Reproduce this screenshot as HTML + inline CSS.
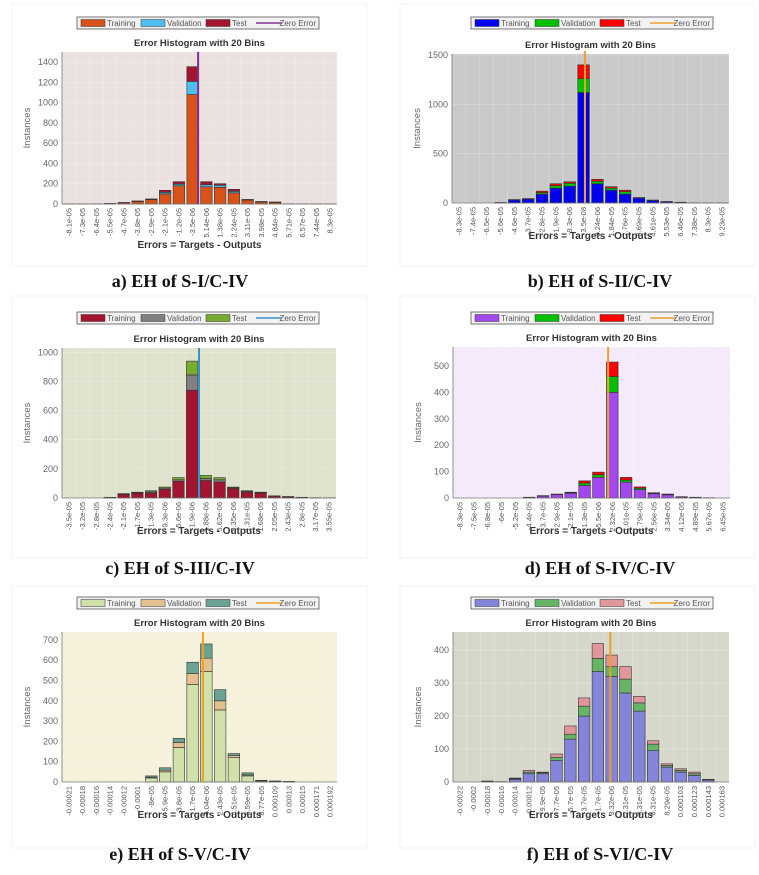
<!DOCTYPE html>
<html><head><meta charset="utf-8"><style>
html,body{margin:0;padding:0;background:#fff;}
svg{display:block;font-family:"Liberation Sans",sans-serif;}
</style></head><body>
<svg id="fig" width="759" height="875" viewBox="0 0 759 875" xmlns="http://www.w3.org/2000/svg"></svg>
<script>
// ---------- data ----------
const ticksA=["-8.1e-05","-7.3e-05","-6.4e-05","-5.5e-05","-4.7e-05","-3.8e-05","-2.9e-05","-2.1e-05","-1.2e-05","-3.5e-06","5.14e-06","1.38e-05","2.24e-05","3.11e-05","3.98e-05","4.84e-05","5.71e-05","6.57e-05","7.44e-05","8.3e-05"];
const trainA=[1,1,1,4,12,25,42,100,180,1080,170,165,110,38,20,16,2,1,1,1];
const valA=[0,0,0,0,1,2,3,15,15,130,20,20,15,4,2,2,0,0,0,0];
const testA=[0,0,0,1,2,3,5,20,25,145,30,15,20,3,3,2,0,0,0,0];
const zeroA=9.9;

const ticksB=["-8.3e-05","-7.4e-05","-6.5e-05","-5.6e-05","-4.6e-05","-3.7e-05","-2.8e-05","-1.9e-05","-9.3e-06","-3.5e-08","9.24e-06","1.84e-05","2.76e-05","3.69e-05","4.61e-05","5.53e-05","6.46e-05","7.38e-05","8.3e-05","9.23e-05"];
const trainB=[0,0,0,4,30,40,90,150,170,1120,195,130,90,50,25,12,6,2,1,1];
const valB=[0,0,0,0,2,2,15,25,30,140,25,20,25,3,2,2,1,0,0,0];
const testB=[0,0,0,1,3,3,15,20,15,140,20,15,15,2,3,1,1,0,0,0];
const zeroB=9.6;

const ticksC=["-3.5e-05","-3.2e-05","-2.8e-05","-2.4e-05","-2.1e-05","-1.7e-05","-1.3e-05","-9.3e-06","-5.6e-06","-1.9e-06","1.88e-06","5.62e-06","9.35e-06","1.31e-05","1.68e-05","2.05e-05","2.43e-05","2.8e-05","3.17e-05","3.55e-05"];
const trainC=[0,0,0,4,25,33,35,60,115,740,120,110,65,40,35,12,8,4,2,1];
const valC=[0,0,0,0,2,3,7,8,10,105,15,15,5,5,3,2,1,1,0,0];
const testC=[0,0,0,1,3,4,8,7,15,95,20,15,5,5,2,1,1,0,0,0];
const zeroC=10.0;

const ticksD=["-8.3e-05","-7.5e-05","-6.8e-05","-6e-05","-5.2e-05","-4.4e-05","-3.7e-05","-2.9e-05","-2.1e-05","-1.3e-05","-5.5e-06","2.32e-06","1.01e-05","1.79e-05","2.56e-05","3.34e-05","4.12e-05","4.89e-05","5.67e-05","6.45e-05"];
const trainD=[0,0,0,0,0,2,7,13,18,48,78,400,60,32,16,12,4,2,1,0];
const valD=[0,0,0,0,0,1,1,1,2,9,10,60,8,5,2,2,1,1,0,0];
const testD=[0,0,0,0,0,0,1,1,2,8,10,55,10,5,2,1,0,0,0,0];
const zeroD=11.2;

const ticksE=["-0.00021","-0.00018","-0.00016","-0.00014","-0.00012","-0.0001","-8e-05","-5.9e-05","-3.8e-05","-1.7e-05","4.04e-06","2.43e-05","4.51e-05","6.59e-05","8.77e-05","0.000109","0.00013","0.00015","0.000171","0.000192"];
const trainE=[0,0,0,0,0,0,20,50,170,480,545,355,120,30,5,3,2,0,0,0];
const valE=[0,0,0,0,0,0,4,8,25,55,65,45,10,5,1,1,0,0,0,0];
const testE=[0,0,0,0,0,0,6,12,20,55,70,55,10,10,2,1,1,0,0,0];
const zeroE=10.25;

const ticksF=["-0.00022","-0.0002","-0.00018","-0.00016","-0.00014","-0.00012","-9.9e-05","-7.7e-05","-5.7e-05","-3.7e-05","-1.7e-05","3.32e-06","2.31e-05","4.31e-05","6.31e-05","8.29e-05","0.000103","0.000123","0.000143","0.000163"];
const trainF=[0,0,2,1,8,25,25,65,130,200,335,320,270,215,95,45,30,20,6,0];
const valF=[0,0,1,0,2,5,3,10,15,30,40,30,42,25,20,5,5,5,1,0];
const testF=[0,0,0,0,2,5,2,10,25,25,45,35,38,20,10,5,5,5,1,0];
const zeroF=11.4;

const yTicksA=[0,200,400,600,800,1000,1200,1400];
const yTicksB=[0,500,1000,1500];
const yTicksC=[0,200,400,600,800,1000];
const yTicksD=[0,100,200,300,400,500];
const yTicksE=[0,100,200,300,400,500,600,700];
const yTicksF=[0,100,200,300,400];

// ---------- drawing ----------
const NS="http://www.w3.org/2000/svg";
const svg=document.getElementById('fig');
function mk(tag,attrs,parent,text){
  const e=document.createElementNS(NS,tag);
  for(const k in attrs)e.setAttribute(k,attrs[k]);
  if(text!==undefined)e.textContent=text;
  (parent||svg).appendChild(e);return e;
}
function panel(p){
  const g=mk('g',{});
  
  
  mk('rect',{x:p.fx,y:p.fy,width:355,height:262,fill:'none',stroke:'#f3f3f3','stroke-width':1},g);
  const x0=p.x0,x1=p.x1,yT=p.yT,yB=p.yB;
  const n=p.ticks.length,bw=(x1-x0)/n;
  const xs=v=>x0+v*bw;
  const ys=v=>yB-v/p.ymax*(yB-yT);
  const bg=mk('rect',{x:x0,y:yT,width:x1-x0,height:yB-yT,fill:p.bg},g);
  
  
  for(let i=0;i<=n;i++)mk('line',{x1:xs(i),x2:xs(i),y1:yT,y2:yB,stroke:'#ffffff','stroke-opacity':0.35,'stroke-width':0.5},g);
  p.yticks.forEach(t=>{
    mk('line',{x1:x0,x2:x1,y1:ys(t),y2:ys(t),stroke:'#ffffff','stroke-opacity':0.4,'stroke-width':0.5},g);
    const tl=mk('text',{x:x0-4,y:ys(t)+3,'font-size':9,fill:'#666','text-anchor':'end'},g,String(t));
    
    
  });
  for(let i=0;i<n;i++){
    const segs=[[p.train[i],p.c[0]],[p.val[i],p.c[1]],[p.test[i],p.c[2]]];
    let base=0;
    segs.forEach((s,k)=>{
      if(s[0]<=0)return;
      const r=mk('rect',{x:xs(i)+bw*0.08,y:ys(base+s[0]),width:bw*0.84,height:ys(base)-ys(base+s[0]),fill:s[1],stroke:'#333','stroke-width':0.6},g);
      
      
      base+=s[0];
    });
  }
  mk('line',{x1:x0,x2:x1,y1:yB,y2:yB,stroke:'#777','stroke-width':0.8},g);
  mk('line',{x1:x0,x2:x0,y1:yT,y2:yB,stroke:'#777','stroke-width':0.8},g);
  const zl=mk('line',{x1:xs(p.zero),x2:xs(p.zero),y1:yT-(p.zext||0),y2:yB,stroke:p.c[3],'stroke-width':2},g);
  
  
  p.ticks.forEach((t,i)=>{
    const cx=xs(i+0.5);
    const tl=mk('text',{x:0,y:0,'font-size':7.5,fill:'#555','text-anchor':'end',transform:`translate(${cx+2.5},${yB+4}) rotate(-90)`},g,t);
    
    
  });
  const ti=mk('text',{x:(x0+x1)/2,y:yT-6,'font-size':9.5,'font-weight':'bold',fill:'#333','text-anchor':'middle'},g,'Error Histogram with 20 Bins');
  
  
  const xt=mk('text',{x:(x0+x1)/2,y:yB+p.xto,'font-size':10,'font-weight':'bold',fill:'#333','text-anchor':'middle'},g,'Errors = Targets - Outputs');
  
  
  const yl=mk('text',{x:0,y:0,'font-size':9.5,fill:'#666','text-anchor':'middle',transform:`translate(${x0-32},${(yT+yB)/2}) rotate(-90)`},g,'Instances');
  
  
  const lx=p.lx,ly=p.ly;
  const lg=mk('g',{},g);
  
  
  mk('rect',{x:lx,y:ly,width:242,height:12,fill:'#f2f2f2',stroke:'#555','stroke-width':0.8},lg);
  const offs=[4,64,129,179],labels=['Training','Validation','Test','Zero Error'];
  offs.forEach((o,k)=>{
    if(k<3)mk('rect',{x:lx+o,y:ly+2.5,width:24,height:7,fill:p.c[k],stroke:'#333','stroke-width':0.5},lg);
    else mk('line',{x1:lx+o,x2:lx+o+26,y1:ly+6,y2:ly+6,stroke:p.c[3],'stroke-width':1.5},lg);
    const t=mk('text',{x:k<3?lx+o+26:lx+242-3,y:ly+9,'font-size':8,fill:'#555','text-anchor':k<3?'start':'end'},lg,labels[k]);
    
    
  });
  const cap=mk('text',{x:p.capx,y:p.capy,'font-size':18,'font-weight':'bold','font-family':'Liberation Serif, serif',fill:'#111','text-anchor':'middle'},g,p.caption);
  
  
}
panel({name:'panel-a',fx:12,fy:4,x0:62,x1:337,yT:52,yB:204,ymax:1500,xto:44,yticks:yTicksA,ticks:ticksA,train:trainA,val:valA,test:testA,zero:zeroA,bg:'#ece1e1',c:['#d95319','#4dbeee','#a2142f','#7e2f8e'],lx:77,ly:17,capx:180,capy:287,caption:'a) EH of S-I/C-IV'});
panel({name:'panel-b',fx:400,fy:4,x0:452,x1:729,yT:54,yB:203,ymax:1510,xto:36,zext:3,yticks:yTicksB,ticks:ticksB,train:trainB,val:valB,test:testB,zero:zeroB,bg:'#c9c9c9',c:['#0000f0','#00c000','#ff0000','#f0a030'],lx:471,ly:17,capx:600,capy:287,caption:'b) EH of S-II/C-IV'});
panel({name:'panel-c',fx:12,fy:296,x0:62,x1:336,yT:348,yB:498,ymax:1030,xto:36,yticks:yTicksC,ticks:ticksC,train:trainC,val:valC,test:testC,zero:zeroC,bg:'#dfe2cc',c:['#a2142f','#808080','#77ac30','#3a90c8'],lx:77,ly:312,capx:180,capy:574,caption:'c) EH of S-III/C-IV'});
panel({name:'panel-d',fx:400,fy:296,x0:453,x1:730,yT:347,yB:498,ymax:572,xto:36,yticks:yTicksD,ticks:ticksD,train:trainD,val:valD,test:testD,zero:zeroD,bg:'#f5eafb',c:['#a347f0','#00c000','#ff0000','#f0a030'],lx:471,ly:312,capx:600,capy:574,caption:'d) EH of S-IV/C-IV'});
panel({name:'panel-e',fx:12,fy:586,x0:62,x1:337,yT:632,yB:782,ymax:739,xto:36,yticks:yTicksE,ticks:ticksE,train:trainE,val:valE,test:testE,zero:zeroE,bg:'#f5f1da',c:['#d0e2aa','#e2c090','#6aa394','#f0a020'],lx:77,ly:597,capx:180,capy:860,caption:'e) EH of S-V/C-IV'});
panel({name:'panel-f',fx:400,fy:586,x0:453,x1:729,yT:632,yB:782,ymax:455,xto:36,yticks:yTicksF,ticks:ticksF,train:trainF,val:valF,test:testF,zero:zeroF,bg:'#d7d8cc',c:['#8484da','#66b466','#e0979c','#f0a020'],lx:471,ly:597,capx:600,capy:860,caption:'f) EH of S-VI/C-IV'});
</script>
</body></html>
